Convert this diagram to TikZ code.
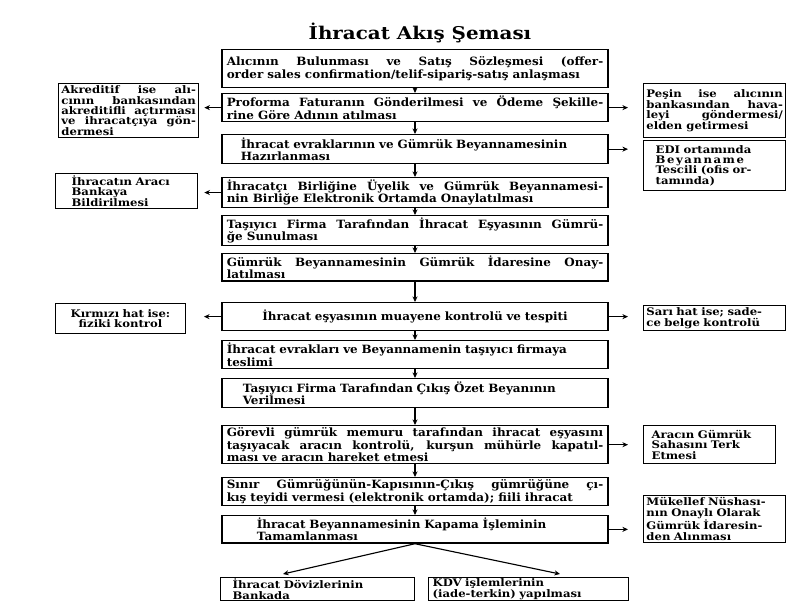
\documentclass[tikz,border=0pt]{standalone}
\usepackage{fontspec}
\setmainfont{DejaVu Serif}
\newfontfamily\genis[FakeStretch=1.05]{DejaVu Serif}
\newfontfamily\genisyan[FakeStretch=1.12]{DejaVu Serif}
\newfontfamily\genisbas[FakeStretch=1.13]{DejaVu Serif}
\usetikzlibrary{arrows.meta, calc}
\tolerance=9999
\hyphenpenalty=10000

\begin{document}
\begin{tikzpicture}[x=0.025cm, y=-0.025cm, >={Stealth[length=4pt, width=3.6pt]},
  akis/.style={draw, line width=0.9pt, anchor=north, minimum width=9.65cm,
               text width=9.41cm, inner xsep=0.12cm, inner ysep=1.5pt, align=justify,
               font=\genis\fontsize{8.1}{8.8}\selectfont\bfseries},
  yan/.style={draw, line width=0.9pt, anchor=north west, inner xsep=2pt,
              inner ysep=1.5pt, align=justify,
              font=\genisyan\fontsize{7.4}{7.4}\selectfont\bfseries},
  ok/.style={->, line width=0.8pt}]
  \useasboundingbox (0,0) rectangle (800,600);

  \node[font=\genisbas\fontsize{12.5}{14}\selectfont\bfseries] (baslik) at (420,33) {İhracat Akış Şeması};

  % ana akis
  \node[akis, minimum height=0.95cm] (k1) at (415,49)
    {\parfillskip=0pt Alıcının Bulunması ve Satış Sözleşmesi (offer-\linebreak order sales confirmation/telif-sipariş-satış anlaşması};
  \node[akis, minimum height=0.7cm] (k2) at (415,93)
    {Proforma Faturanın Gönderilmesi ve Ödeme Şekille-\linebreak rine Göre Adının atılması};
  \node[akis, minimum height=0.725cm, align=left] (k3) at (415,134)
    {\hspace*{0.35cm}İhracat evraklarının ve Gümrük Beyannamesinin\\\hspace*{0.35cm}Hazırlanması};
  \node[akis, minimum height=0.675cm] (k4) at (415,177)
    {\parfillskip=0pt İhracatçı Birliğine Üyelik ve Gümrük Beyannamesi-\linebreak nin Birliğe Elektronik Ortamda Onaylatılması};
  \node[akis, minimum height=0.675cm] (k5) at (415,215)
    {Taşıyıcı Firma Tarafından İhracat Eşyasının Gümrü-\linebreak ğe Sunulması};
  \node[akis, minimum height=0.65cm] (k6) at (415,253)
    {Gümrük Beyannamesinin Gümrük İdaresine Onay-\linebreak latılması};
  \node[akis, minimum height=0.7cm, align=center] (k7) at (415,302)
    {İhracat eşyasının muayene kontrolü ve tespiti};
  \node[akis, minimum height=0.7cm, align=left] (k8) at (415,340)
    {İhracat evrakları ve Beyannamenin taşıyıcı firmaya\\teslimi};
  \node[akis, minimum height=0.725cm, align=left] (k9) at (415,378)
    {\hspace*{0.4cm}Taşıyıcı Firma Tarafından Çıkış Özet Beyanının\\\hspace*{0.4cm}Verilmesi};
  \node[akis, minimum height=0.95cm] (k10) at (415,425)
    {Görevli gümrük memuru tarafından ihracat eşyasını\linebreak taşıyacak aracın kontrolü, kurşun mühürle kapatıl-\linebreak ması ve aracın hareket etmesi};
  \node[akis, minimum height=0.65cm] (k11) at (415,477)
    {\parfillskip=0pt Sınır Gümrüğünün-Kapısının-Çıkış gümrüğüne çı-\linebreak kış teyidi vermesi (elektronik ortamda); fiili ihracat};
  \node[akis, minimum height=0.675cm, align=left] (k12) at (415,515)
    {\hspace*{0.75cm}İhracat Beyannamesinin Kapama İşleminin\\\hspace*{0.75cm}Tamamlanması};

  \foreach \a/\b in {k1/k2, k2/k3, k3/k4, k4/k5, k5/k6, k6/k7, k7/k8, k8/k9,
                     k9/k10, k10/k11, k11/k12}
    \draw[ok] (\a.south) -- (\b.north);

  % yan kutular
  \node[yan, text width=3.36cm, minimum height=1.3cm] (s1) at (58,83)
    {Akreditif ise alı-\linebreak cının bankasından\linebreak akreditifli açtırması\linebreak ve ihracatçıya gön-\linebreak dermesi};
  \node[yan, text width=2.75cm, inner xsep=0.4cm, minimum height=0.875cm, align=left] (s2) at (55,173)
    {İhracatın Aracı\\Bankaya\\Bildirilmesi};
  \node[yan, text width=3.1cm, minimum height=0.75cm, align=center] (s3) at (55,303)
    {Kırmızı hat ise:\\fiziki kontrol};
  \node[yan, text width=3.41cm, minimum height=1.35cm] (r1) at (643,83)
    {\parfillskip=0pt Peşin ise alıcının\linebreak bankasından hava-\linebreak leyi göndermesi/\linebreak elden getirmesi};
  \node[yan, text width=2.95cm, inner xsep=0.3cm, minimum height=1.25cm, align=left] (r2) at (643,140)
    {EDI ortamında\\{\addfontfeature{LetterSpace=15}Beyanname}\\Tescili (ofis or-\\tamında)};
  \node[yan, text width=3.41cm, minimum height=0.625cm, align=left] (r3) at (643,305)
    {Sarı hat ise; sade-\\ce belge kontrolü};
  \node[yan, text width=2.9cm, inner xsep=0.2cm, minimum height=0.95cm, align=left] (r4) at (643,425)
    {Aracın Gümrük\\Sahasını Terk\\Etmesi};
  \node[yan, text width=3.41cm, minimum height=1.075cm, align=left] (r5) at (643,495)
    {Mükellef Nüshası-\\nın Onaylı Olarak\\Gümrük İdaresin-\\den Alınması};

  \draw[ok, shorten >=0.125cm] (k2.west) -- (k2.west -| s1.east);
  \draw[ok, shorten >=0.15cm] (k4.west) -- (k4.west -| s2.east);
  \draw[ok, shorten >=0.45cm] (k7.west) -- (k7.west -| s3.east);
  \draw[ok, shorten >=0.375cm] (k2.east) -- (k2.east -| r1.west);
  \draw[ok, shorten >=0.375cm] (k3.east) -- (k3.east -| r2.west);
  \draw[ok, shorten >=0.375cm] (k7.east) -- (k7.east -| r3.west);
  \draw[ok, shorten >=0.375cm] (k10.east) -- (k10.east -| r4.west);
  \draw[ok, shorten >=0.375cm] (k12.east) -- (k12.east -| r5.west);

  % alt kutular
  \node[yan, text width=4.25cm, inner xsep=0.3cm, inner ysep=1pt, align=left] (d1) at (220,577)
    {İhracat Dövizlerinin\\Bankada\par\vspace*{0.6cm}};
  \node[yan, text width=4.8cm, inner xsep=0.1cm, inner ysep=1pt, align=left] (d2) at (428,577)
    {KDV işlemlerinin\\(iade-terkin) yapılması\par\vspace*{0.6cm}};
  \coordinate (u1) at (283,574);
  \coordinate (u2) at (560,574);
  \draw[ok] (k12.south) -- (u1);
  \draw[ok] (k12.south) -- (u2);
\end{tikzpicture}
\end{document}
